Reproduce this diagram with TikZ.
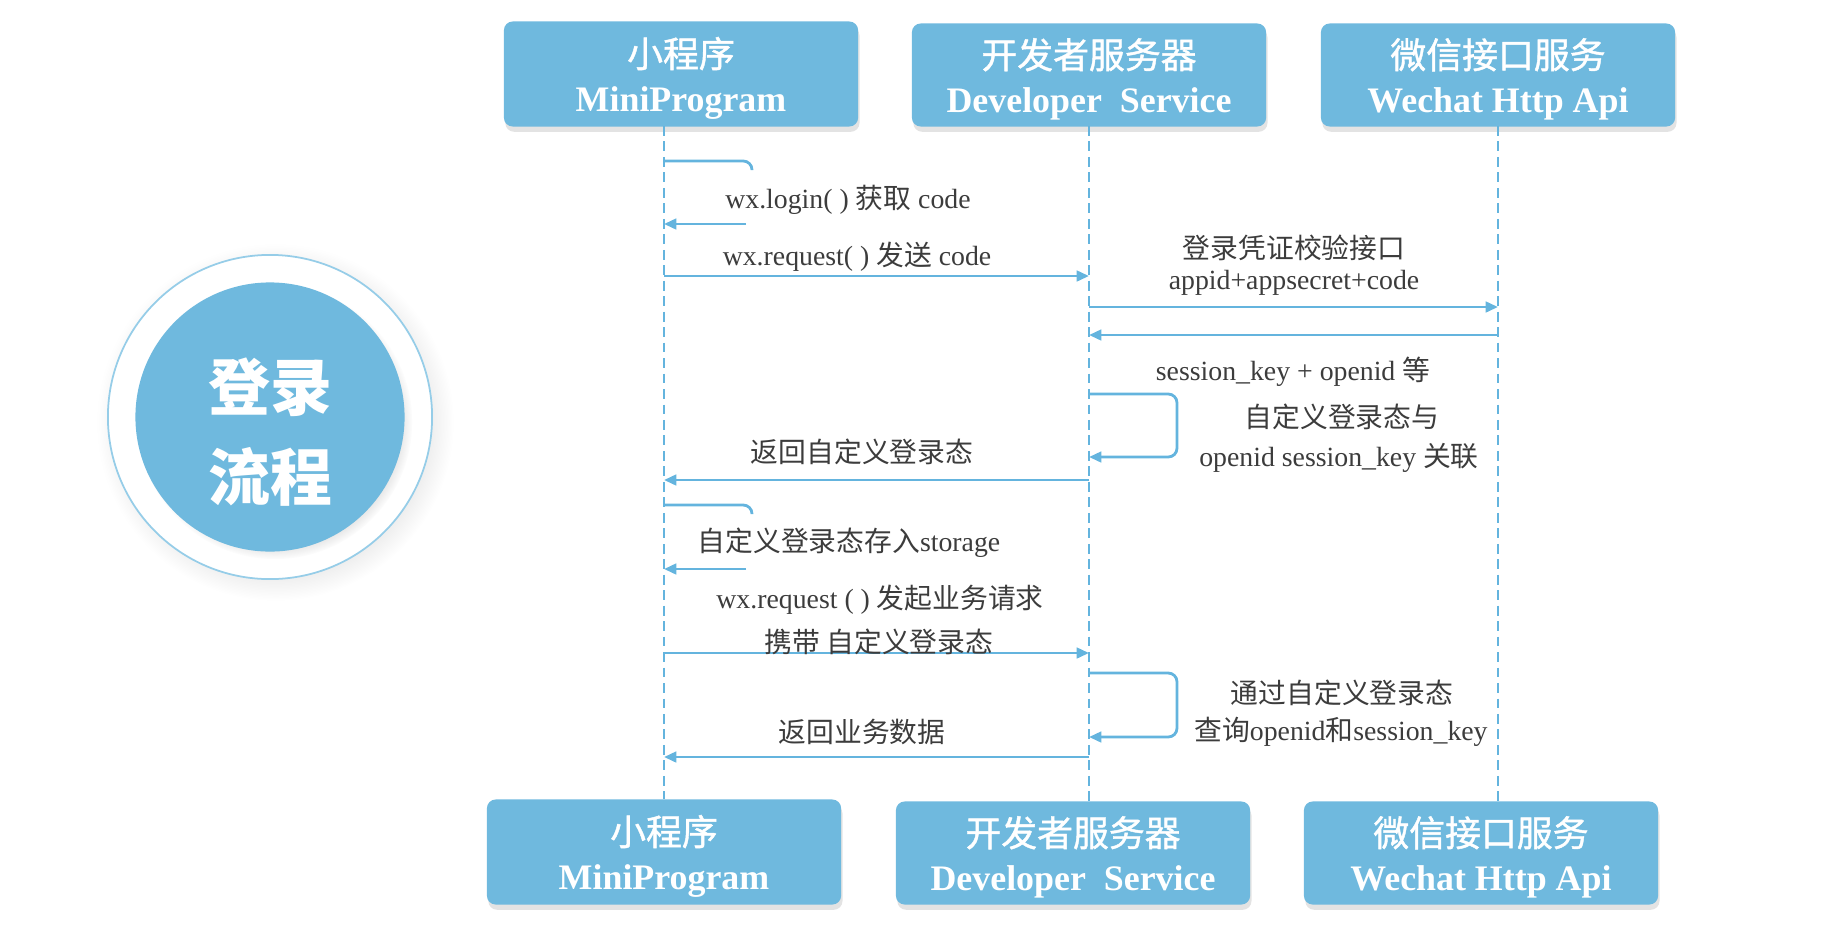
\documentclass[tikz,border=0pt]{standalone}
\usepackage{fontspec}
\setmainfont{Liberation Serif}
\newfontfamily\cjk{Noto Sans CJK SC}
\newfontfamily\cjkbox[FakeBold=1.2]{Noto Sans CJK SC}
\usetikzlibrary{arrows.meta,shadows}
\definecolor{wxblue}{RGB}{111,185,222}
\definecolor{lineblue}{RGB}{100,180,222}
\definecolor{ringblue}{RGB}{150,205,232}
\definecolor{txtgray}{RGB}{60,60,60}
\newcommand{\zh}[1]{{\cjk #1}}
\newcommand{\zhbox}[1]{{\cjkbox\mdseries\rule{0pt}{11pt}#1}}
\begin{document}
\begin{tikzpicture}[x=0.01cm, y=-0.01cm,
	box/.style={fill=wxblue, rounded corners=2.5pt, minimum width=3.54cm, minimum height=1.04cm, text=white, align=center, inner sep=0pt, drop shadow={opacity=0.22, shadow xshift=0.4pt, shadow yshift=-1.5pt}, font=\fontsize{10.2}{12.6}\selectfont\bfseries},
	life/.style={draw=lineblue, line width=0.6pt, dash pattern=on 2.8pt off 1.6pt},
	msg/.style={draw=lineblue, line width=0.8pt, -{Triangle[length=3.5pt, width=3pt]}},
	back/.style={msg, rounded corners=2.5pt},
	lbl/.style={text=txtgray, inner sep=0pt, font=\fontsize{7.9}{9.5}\selectfont}]
	\useasboundingbox (0,0) rectangle (1836,930);
	% title circle
	\node[circle, draw=ringblue, line width=0.5pt, fill=white, minimum size=3.24cm, circular drop shadow={opacity=0.15}] (ring) at (270,417) {};
	\node[circle, fill=wxblue, minimum size=2.69cm, circular drop shadow={opacity=0.35, shadow scale=1.02}] (disc) at (270,417) {};
	\node[text=white, align=center, font=\fontsize{17.6}{25.6}\selectfont\bfseries\cjk] (title) at (270,432) {登录\\流程};
	% top boxes
	\node[box, minimum height=1.05cm] (mpT) at (681,74) {\zhbox{小程序}\\MiniProgram};
	\node[box, minimum height=1.03cm] (dsT) at (1089,75) {\zhbox{开发者服务器}\\Developer~~Service};
	\node[box, minimum height=1.03cm] (wcT) at (1498,75) {\zhbox{微信接口服务}\\Wechat Http Api};
	% bottom boxes
	\node[box, minimum height=1.05cm] (mpB) at (664,852) {\zhbox{小程序}\\MiniProgram};
	\node[box, minimum height=1.03cm] (dsB) at (1073,853) {\zhbox{开发者服务器}\\Developer~~Service};
	\node[box, minimum height=1.03cm] (wcB) at (1481,853) {\zhbox{微信接口服务}\\Wechat Http Api};
	% lifelines
	\coordinate (mp0) at (664,126);
	\coordinate (mp9) at (664,799);
	\coordinate (ds0) at (1089,126);
	\coordinate (ds9) at (1089,802);
	\coordinate (wc0) at (1498,126);
	\coordinate (wc9) at (1498,802);
	\draw[life] (mp0) -- (mp9);
	\draw[life] (ds0) -- (ds9);
	\draw[life] (wc0) -- (wc9);
	% points on the lifelines
	\coordinate (mp1) at (664,161);
	\coordinate (mp2) at (664,224);
	\coordinate (mp3) at (664,276);
	\coordinate (mp4) at (664,480);
	\coordinate (mp5) at (664,505);
	\coordinate (mp6) at (664,569);
	\coordinate (mp7) at (664,653);
	\coordinate (mp8) at (664,757);
	\coordinate (ds1) at (1089,276);
	\coordinate (ds2) at (1089,307);
	\coordinate (ds3) at (1089,335);
	\coordinate (ds4) at (1089,394);
	\coordinate (ds5) at (1089,457);
	\coordinate (ds6) at (1089,480);
	\coordinate (ds7) at (1089,653);
	\coordinate (ds8) at (1089,673);
	\coordinate (ds10) at (1089,737);
	\coordinate (ds11) at (1089,757);
	\coordinate (wc1) at (1498,307);
	\coordinate (wc2) at (1498,335);
	% self loops
	\coordinate (l1a) at (752,161);
	\coordinate (l1b) at (752,170);
	\coordinate (l1c) at (746,224);
	\coordinate (l2a) at (1177,394);
	\coordinate (l2b) at (1177,457);
	\coordinate (l3a) at (752,505);
	\coordinate (l3b) at (752,514);
	\coordinate (l3c) at (746,569);
	\coordinate (l4a) at (1177,673);
	\coordinate (l4b) at (1177,737);
	\draw[back, -] (mp1) -- (l1a) -- (l1b);
	\draw[msg] (l1c) -- (mp2);
	\draw[back] (ds4) -- (l2a) -- (l2b) -- (ds5);
	\draw[back, -] (mp5) -- (l3a) -- (l3b);
	\draw[msg] (l3c) -- (mp6);
	\draw[back] (ds8) -- (l4a) -- (l4b) -- (ds10);
	% messages
	\draw[msg] (mp3) -- (ds1);
	\draw[msg] (ds2) -- (wc1);
	\draw[msg] (wc2) -- (ds3);
	\draw[msg] (ds6) -- (mp4);
	\draw[msg] (mp7) -- (ds7);
	\draw[msg] (ds11) -- (mp8);
	% labels
	\node[lbl] (t1) at (848,200) {wx.login( ) \zh{获取} code};
	\node[lbl] (t2) at (857,257) {wx.request( ) \zh{发送} code};
	\node[lbl] (t3) at (1294,248) {\zh{登录凭证校验接口}};
	\node[lbl] (t4) at (1294,283) {appid+appsecret+code};
	\node[lbl] (t5) at (1293,372) {session\_key + openid \zh{等}};
	\node[lbl] (t6) at (1342,417) {\zh{自定义登录态与}};
	\node[lbl] (t7) at (1339,458) {openid session\_key \zh{关联}};
	\node[lbl] (t8) at (862,452) {\zh{返回自定义登录态}};
	\node[lbl] (t9) at (849,543) {\zh{自定义登录态存入}storage};
	\node[lbl] (t10) at (880,600) {wx.request ( ) \zh{发起业务请求}};
	\node[lbl] (t11) at (879,642) {\zh{携带 自定义登录态}};
	\node[lbl] (t12) at (1342,693) {\zh{通过自定义登录态}};
	\node[lbl] (t13) at (1341,732) {\zh{查询}openid\zh{和}session\_key};
	\node[lbl] (t14) at (862,732) {\zh{返回业务数据}};
\end{tikzpicture}
\end{document}
